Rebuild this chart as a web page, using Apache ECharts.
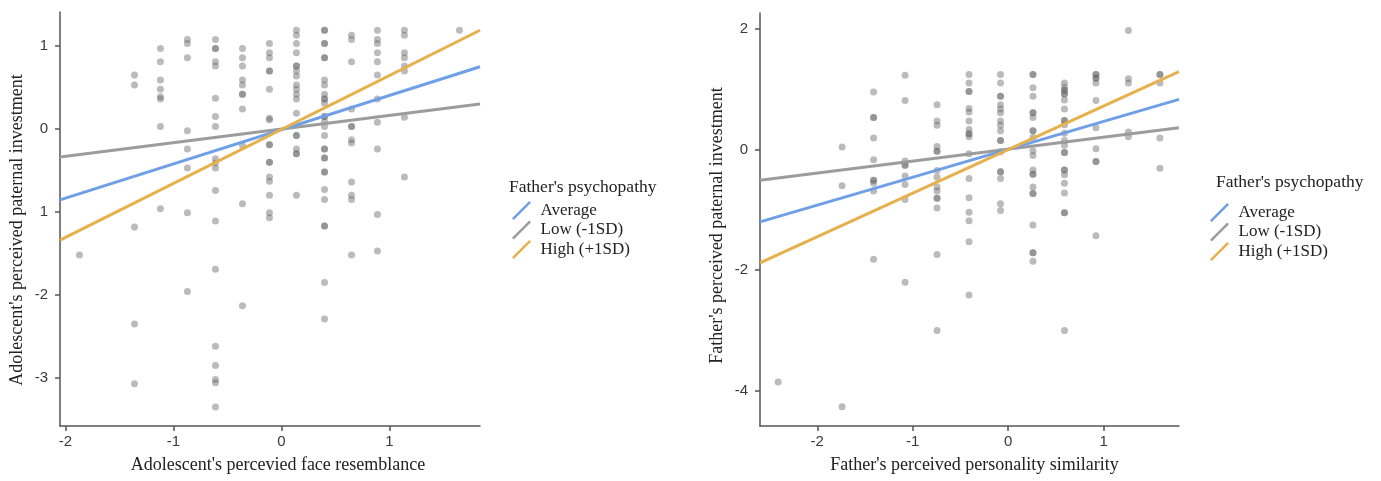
<!DOCTYPE html>
<html>
<head>
<meta charset="utf-8">
<script src="https://cdn.jsdelivr.net/npm/echarts@6/dist/echarts.min.js"></script>
<style>
  html, body { margin: 0; padding: 0; background: #fff; }
  #main { width: 1381px; height: 481px; }
</style>
</head>
<body>
<div id="main"></div>
<script>
// 左图: 横轴为各列的 x 值, 纵轴为每列的点
const leftXCols = [-1.87, -1.36, -1.12, -0.87, -0.61, -0.36, -0.11, 0.14, 0.40, 0.65, 0.89, 1.14, 1.65];
const leftYCols = [
    [-1.52],
    [0.65, 0.53, -1.18, -2.35, -3.07],
    [0.97, 0.81, 0.59, 0.48, 0.39, 0.36, 0.03, -0.96],
    [1.08, 1.03, 0.86, -0.02, -0.24, -0.47, -1.01, -1.96],
    [1.08, 0.97, 0.97, 0.81, 0.76, 0.37, 0.15, 0.03, -0.36, -0.41, -0.47, -0.74, -1.11, -1.69, -2.62, -2.85, -3.02, -3.06, -3.35],
    [0.97, 0.86, 0.76, 0.59, 0.53, 0.42, 0.42, 0.24, -0.2, -0.9, -2.13],
    [1.03, 0.92, 0.86, 0.7, 0.7, 0.48, 0.13, 0.11, -0.19, -0.19, -0.4, -0.4, -0.58, -0.63, -0.8, -1.01, -1.07],
    [1.19, 1.13, 1.03, 0.92, 0.76, 0.76, 0.7, 0.64, 0.53, 0.48, 0.42, 0.36, 0.19, -0.08, -0.08, -0.24, -0.3, -0.3, -0.8],
    [1.19, 1.19, 1.03, 1.03, 0.86, 0.86, 0.59, 0.53, 0.42, 0.36, 0.36, 0.31, 0.15, 0.15, 0.09, 0.03, -0.08, -0.24, -0.24, -0.35, -0.35, -0.52, -0.52, -0.73, -0.85, -1.17, -1.17, -1.85, -2.29],
    [1.13, 1.08, 0.81, 0.24, 0.03, 0.03, -0.13, -0.17, -0.64, -0.8, -0.85, -1.52],
    [1.19, 1.08, 1.03, 0.92, 0.81, 0.65, 0.36, 0.08, -0.24, -1.03, -1.47],
    [1.19, 1.13, 0.92, 0.86, 0.76, 0.7, 0.14, -0.58],
    [1.19]
];
// 左图回归线 (两端)
const leftLineX = [-2.05, 1.84];
const leftAverage = [-0.855, 0.75];
const leftLow = [-0.337, 0.30];
const leftHigh = [-1.34, 1.19];
const leftXTicks = [-2, -1, 0, 1];
const leftYTicks = [-3, -2, -1, 0, 1];
const leftYTickLabels = ['-3', '-2', '1', '0', '1'];

// 右图
const rightXCols = [-2.41, -1.74, -1.41, -1.08, -0.745, -0.41, -0.08, 0.26, 0.59, 0.92, 1.26, 1.59];
const rightYCols = [
    [-3.85],
    [0.04, -0.6, -4.26],
    [0.95, 0.53, 0.53, 0.19, -0.17, -0.51, -0.51, -0.56, -0.69, -1.82],
    [1.23, 0.81, -0.19, -0.26, -0.26, -0.44, -0.58, -0.83, -2.2],
    [0.74, 0.47, 0.4, 0.05, -0.03, -0.03, -0.35, -0.46, -0.62, -0.69, -0.81, -0.81, -0.97, -1.74, -3.0],
    [1.24, 1.1, 0.96, 0.96, 0.68, 0.62, 0.47, 0.33, 0.26, 0.26, 0.21, -0.07, -0.48, -0.8, -1.04, -1.18, -1.53, -2.41],
    [1.24, 1.1, 0.88, 0.88, 0.74, 0.67, 0.61, 0.47, 0.4, 0.31, 0.15, 0.15, -0.04, -0.37, -0.37, -0.48, -0.9, -1.01],
    [1.24, 1.24, 1.02, 0.88, 0.61, 0.61, 0.53, 0.31, 0.31, 0.2, -0.02, -0.1, -0.34, -0.41, -0.41, -0.62, -0.73, -0.73, -1.25, -1.71, -1.71, -1.85],
    [1.1, 1.03, 0.98, 0.98, 0.92, 0.92, 0.82, 0.67, 0.48, 0.48, 0.41, 0.27, 0.15, 0.07, -0.05, -0.05, -0.34, -0.34, -0.42, -0.56, -0.72, -1.05, -1.05, -3.0],
    [1.24, 1.24, 1.18, 1.18, 1.1, 0.81, 0.36, 0.01, -0.2, -0.2, -1.43],
    [1.97, 1.17, 1.1, 0.29, 0.21],
    [1.24, 1.24, 1.1, 0.19, -0.31]
];
const rightLineX = [-2.6, 1.79];
const rightAverage = [-1.2, 0.83];
const rightLow = [-0.51, 0.36];
const rightHigh = [-1.88, 1.29];
const rightXTicks = [-2, -1, 0, 1];
const rightYTicks = [-4, -2, 0, 2];

const groupNames = ['Average', 'Low (-1SD)', 'High (+1SD)'];
const groupColors = ['#6f9fe6', '#9c9c9c', '#e6b04c'];

const serif = '"Liberation Serif", "DejaVu Serif", serif';
const sans = '"Liberation Sans", Arial, sans-serif';
const axisColor = '#555';

function points(xs, cols) {
    let out = [];
    xs.forEach((x, i) => {
        cols[i].forEach(y => out.push([x, y]));
    });
    return out;
}

function xAxisOpt(idx, min, max, ticks, name, shift) {
    return {
        type: 'value', gridIndex: idx, min: min, max: max,
        name: name, nameLocation: 'middle', nameGap: 30,
        nameTextStyle: {fontFamily: serif, fontSize: 18, color: '#222', padding: [0, 0, 0, shift]},
        axisLine: {onZero: false, lineStyle: {color: axisColor, width: 1.5}},
        axisTick: {show: true, customValues: ticks, length: 5, lineStyle: {color: axisColor, width: 1.5}},
        axisLabel: {customValues: ticks, margin: 8, fontFamily: sans, fontSize: 15, color: '#3a3a3a'},
        splitLine: {show: false}
    };
}

function yAxisOpt(idx, min, max, ticks, name, labels, shift) {
    return {
        type: 'value', gridIndex: idx, min: min, max: max,
        name: name, nameLocation: 'middle', nameGap: 34,
        nameTextStyle: {fontFamily: serif, fontSize: 18, color: '#222', padding: [0, shift, 0, 0]},
        axisLine: {onZero: false, lineStyle: {color: axisColor, width: 1.5}},
        axisTick: {show: true, customValues: ticks, length: 5, lineStyle: {color: axisColor, width: 1.5}},
        axisLabel: {
            customValues: ticks, margin: 12, fontFamily: sans, fontSize: 15, color: '#3a3a3a',
            formatter: v => labels ? labels[ticks.indexOf(v)] : String(v)
        },
        splitLine: {show: false}
    };
}

function lineSeries(idx, xs, ys, k) {
    return {
        name: groupNames[k], type: 'line', xAxisIndex: idx, yAxisIndex: idx,
        data: [[xs[0], ys[0]], [xs[1], ys[1]]],
        showSymbol: false, symbol: 'none', z: 5, silent: true,
        color: groupColors[k],
        itemStyle: {color: groupColors[k]},
        lineStyle: {color: groupColors[k], width: 3}
    };
}

function scatterSeries(idx, data) {
    return {
        type: 'scatter', xAxisIndex: idx, yAxisIndex: idx, data: data,
        symbolSize: 7, z: 2, silent: true,
        itemStyle: {color: 'rgba(100,100,100,0.55)'}
    };
}

const legendIcon = 'path://M0,20 L20,0 L22,2 L2,22 Z';
function legendOpt(left, top) {
    return {
        data: groupNames, orient: 'vertical', left: left, top: top,
        icon: legendIcon, itemWidth: 28, itemHeight: 19, itemGap: 0.5,
        selectedMode: false,
        textStyle: {fontFamily: serif, fontSize: 17, color: '#222'}
    };
}

const chart = echarts.init(document.getElementById('main'));
chart.setOption({
    backgroundColor: '#fff',
    animation: false,
    title: [
        {text: "Father's psychopathy", left: 509, top: 178, padding: 0,
         textStyle: {fontFamily: serif, fontSize: 17.5, fontWeight: 'normal', color: '#222'}},
        {text: "Father's psychopathy", left: 1216, top: 173, padding: 0,
         textStyle: {fontFamily: serif, fontSize: 17.5, fontWeight: 'normal', color: '#222'}}
    ],
    legend: [legendOpt(507, 196), legendOpt(1205, 198)],
    grid: [
        {left: 60, top: 12, width: 420, height: 414},
        {left: 760, top: 13, width: 419, height: 413}
    ],
    xAxis: [
        xAxisOpt(0, -2.05, 1.84, leftXTicks, "Adolescent's percevied face resemblance", 16),
        xAxisOpt(1, -2.6, 1.79, rightXTicks, "Father's perceived personality similarity", 10)
    ],
    yAxis: [
        yAxisOpt(0, -3.58, 1.41, leftYTicks, "Adolescent's perceived paternal investment", leftYTickLabels, 22),
        yAxisOpt(1, -4.58, 2.26, rightYTicks, "Father's perceived paternal investment", null, 12)
    ],
    series: [
        scatterSeries(0, points(leftXCols, leftYCols)),
        lineSeries(0, leftLineX, leftLow, 1),
        lineSeries(0, leftLineX, leftAverage, 0),
        lineSeries(0, leftLineX, leftHigh, 2),
        scatterSeries(1, points(rightXCols, rightYCols)),
        lineSeries(1, rightLineX, rightLow, 1),
        lineSeries(1, rightLineX, rightAverage, 0),
        lineSeries(1, rightLineX, rightHigh, 2)
    ]
});
</script>
</body>
</html>
